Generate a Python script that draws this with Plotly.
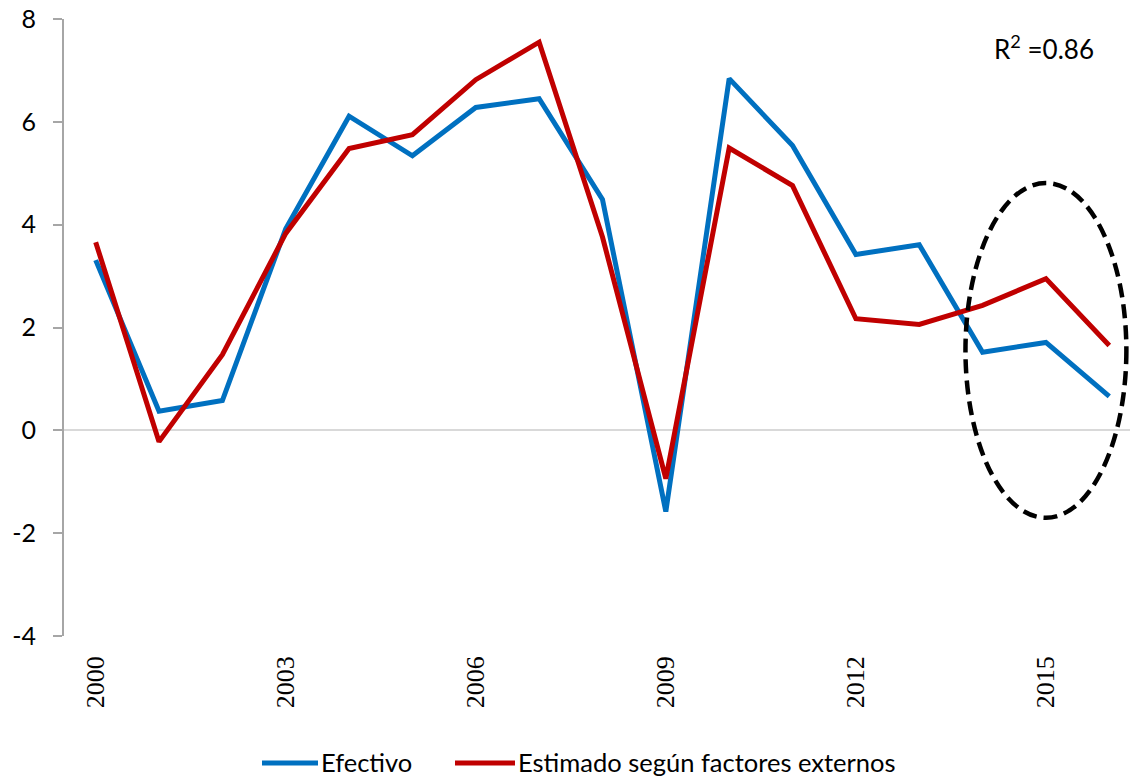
import plotly.graph_objects as go

# Annual growth: observed vs. estimated from external factors
years = list(range(2000, 2017))
efectivo = [3.31, 0.37, 0.58, 3.92, 6.11, 5.34, 6.28, 6.45, 4.49, -1.58,
            6.84, 5.54, 3.42, 3.61, 1.52, 1.71, 0.66]
estimado = [3.66, -0.22, 1.47, 3.83, 5.48, 5.75, 6.82, 7.55, 3.76, -0.94,
            5.49, 4.76, 2.17, 2.06, 2.43, 2.95, 1.65]

x_tick_years = [2000, 2003, 2006, 2009, 2012, 2015]
y_ticks = [-4, -2, 0, 2, 4, 6, 8]

name_efectivo = "Efectivo"
name_estimado = "Estimado según factores externos"
r2_text = "R<sup>2</sup> =0.86"

BLUE = "#0070C0"
RED = "#C00000"
AXIS_GRAY = "#A6A6A6"
ZERO_GRAY = "#D9D9D9"
SANS = "Lato"
SERIF = "Liberation Serif"

# plot area in pixels (used to place paper-referenced items)
PL, PW, PB, PH = 64, 1066, 636, 617.3


def px_x(px):
    return (px - PL) / PW


def px_y(py):
    return (PB - py) / PH


fig = go.Figure()
fig.add_trace(go.Scatter(x=years, y=efectivo, mode="lines", name=name_efectivo,
                         line=dict(color=BLUE, width=5)))
fig.add_trace(go.Scatter(x=years, y=estimado, mode="lines", name=name_estimado,
                         line=dict(color=RED, width=5)))

# Dashed ellipse highlighting the last years
fig.add_shape(type="circle", xref="x", yref="y",
              x0=2013.73, x1=2016.27, y0=-1.70, y1=4.81,
              line=dict(color="black", width=4.5, dash="14px,7px"),
              layer="above")

fig.add_annotation(text=r2_text, xref="paper", yref="paper",
                   x=px_x(1044), y=px_y(47),
                   xanchor="center", yanchor="middle", showarrow=False,
                   font=dict(family=SANS, size=26, color="black"))

# Legend below the chart: a line sample followed by the series name
legend_items = [(name_efectivo, BLUE, 262, 318), (name_estimado, RED, 455, 515)]
for label, color, lx0, lx1 in legend_items:
    fig.add_shape(type="line", xref="paper", yref="paper",
                  x0=px_x(lx0), x1=px_x(lx1), y0=px_y(763), y1=px_y(763),
                  line=dict(color=color, width=5))
    fig.add_annotation(text=label, xref="paper", yref="paper",
                       x=px_x(lx1 + 1), y=px_y(762), xanchor="left",
                       yanchor="middle", showarrow=False,
                       font=dict(family=SANS, size=25.5, color="black"))

fig.update_layout(
    width=1130, height=781,
    margin=dict(l=64, r=0, t=19, b=145, autoexpand=False),
    paper_bgcolor="white", plot_bgcolor="white",
    showlegend=False,
    xaxis=dict(range=[1999.5, 1999.5 + 1066 / 63.35], tickmode="array",
               tickvals=x_tick_years, ticktext=[str(y) for y in x_tick_years],
               tickangle=-90, ticks="", showline=False, showgrid=False,
               zeroline=False, ticklabelstandoff=14, automargin=False,
               tickfont=dict(family=SERIF, size=26, color="black")),
    yaxis=dict(range=[-4, 8], tickmode="array", tickvals=y_ticks,
               ticktext=[str(v) for v in y_ticks], showgrid=False,
               showline=True, linecolor=AXIS_GRAY, linewidth=2,
               ticks="outside", ticklen=9, tickcolor=AXIS_GRAY, tickwidth=2,
               zeroline=True, zerolinecolor=ZERO_GRAY, zerolinewidth=2,
               ticklabelstandoff=12, automargin=False,
               tickfont=dict(family=SANS, size=25, color="black")),
)

fig.write_html("out.html")
